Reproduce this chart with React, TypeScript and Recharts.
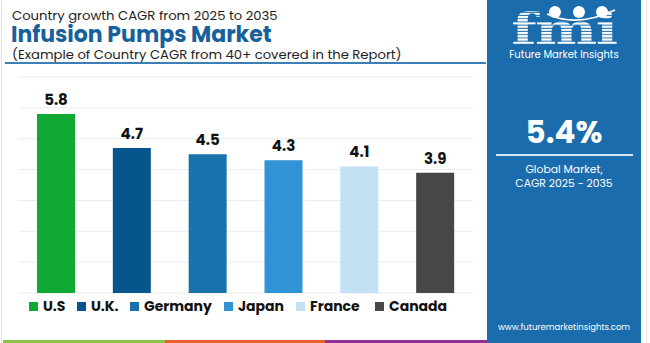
import React from "react";
import { BarChart, Bar, XAxis, YAxis, CartesianGrid, Cell, LabelList } from "recharts";

const countries = ["U.S", "U.K.", "Germany", "Japan", "France", "Canada"];
const cagrValues = [5.8, 4.7, 4.5, 4.3, 4.1, 3.9];
const barColors = ["#0fa934", "#06558c", "#1a72ad", "#2f93d5", "#c4e1f3", "#474747"];
const yTicks = [0, 1, 2, 3, 4, 5, 6, 7];
const legendLefts = [29, 77, 130, 224, 296, 375];

const titleLine1 = "Country growth CAGR from 2025 to 2035";
const titleLine2 = "Infusion Pumps Market";
const titleLine3 = "(Example of Country CAGR from 40+ covered in the Report)";
const globalCagr = "5.4%";
const globalLabel1 = "Global Market,";
const globalLabel2 = "CAGR 2025 - 2035";
const website = "www.futuremarketinsights.com";
const brand = "Future Market Insights";

const data = countries.map((c, i) => ({ name: c, value: cagrValues[i], color: barColors[i] }));

const FONT = "Poppins, 'Open Sans', 'Noto Sans', sans-serif";
const PANEL = "#1b6cad";

function Logo() {
  return (
    <svg width={154} height={64} style={{ position: "absolute", left: 487, top: 0 }}>
      <defs>
        <pattern id="stripes" width="4" height="3.2" patternUnits="userSpaceOnUse">
          <rect x="0" y="0" width="4" height="2.2" fill="#ffffff" />
        </pattern>
      </defs>
      <g transform="translate(77,0) scale(1.4,1) translate(-77,0)">
        <text x={77} y={44} textAnchor="middle" fontFamily="'DejaVu Serif', serif" fontWeight={900} fontSize={42} fill="url(#stripes)" letterSpacing={-1}>
          fmi
        </text>
      </g>
      <circle cx={68} cy={12} r={6} fill="#fff" />
      <circle cx={92} cy={12} r={6} fill="#fff" />
      <circle cx={115} cy={12} r={6} fill="#fff" />
      <path d="M60 14 Q 90 28 128 10" stroke="#fff" strokeWidth={1.5} fill="none" />
      <text x={77} y={58} textAnchor="middle" fontFamily={FONT} fontSize={10} fill="#fff">
        {brand}
      </text>
    </svg>
  );
}

export default function App() {
  return (
    <div style={{ position: "absolute", left: 0, top: 0, width: 650, height: 343, background: "#fff", overflow: "hidden", fontFamily: FONT }}>
      <div style={{ position: "absolute", left: 1, top: 0, width: 1, height: 343, background: "#e2e2e2" }} />
      <div style={{ position: "absolute", left: 646, top: 0, width: 1, height: 343, background: "#e2e2e2" }} />

      <div style={{ position: "absolute", left: 12, top: 8, fontSize: 13.2, lineHeight: "15px", color: "#1e1e1e", whiteSpace: "nowrap" }}>{titleLine1}</div>
      <div style={{ position: "absolute", left: 11, top: 23, fontSize: 22, lineHeight: "24px", fontWeight: 700, color: "#17609a", whiteSpace: "nowrap" }}>{titleLine2}</div>
      <div style={{ position: "absolute", left: 12, top: 48, fontSize: 13.2, lineHeight: "14px", color: "#1e1e1e", whiteSpace: "nowrap" }}>{titleLine3}</div>
      <div style={{ position: "absolute", left: 5, top: 62, width: 481, height: 1.5, background: "#3d7fb5" }} />

      <div style={{ position: "absolute", left: 0, top: 0 }}>
        <BarChart width={650} height={343} data={data} margin={{ top: 77, right: 177, bottom: 50, left: 18 }}>
          <CartesianGrid horizontal vertical={false} stroke="#ececec" />
          <XAxis dataKey="name" hide />
          <YAxis hide domain={[0, 7]} ticks={yTicks} />
          <Bar dataKey="value" barSize={38} isAnimationActive={false}>
            {data.map((d, i) => (
              <Cell key={i} fill={d.color} />
            ))}
            <LabelList dataKey="value" position="top" offset={9} fill="#111" fontWeight={700} fontSize={15} fontFamily={FONT} />
          </Bar>
        </BarChart>
      </div>

      <div style={{ position: "absolute", left: 0, top: 297, height: 20 }}>
        {data.map((d, i) => (
          <div key={i} style={{ position: "absolute", left: legendLefts[i], top: 0, display: "flex", alignItems: "center", whiteSpace: "nowrap" }}>
            <div style={{ width: 9, height: 9, background: d.color, marginRight: 5 }} />
            <span style={{ fontSize: 14, fontWeight: 700, color: "#111", lineHeight: "18px" }}>{d.name}</span>
          </div>
        ))}
      </div>

      <div style={{ position: "absolute", left: 3, top: 340, width: 162, height: 3, background: "#8bc34a" }} />
      <div style={{ position: "absolute", left: 165, top: 340, width: 160, height: 3, background: "#e8602c" }} />
      <div style={{ position: "absolute", left: 325, top: 340, width: 162, height: 3, background: "#8e2e91" }} />

      <div style={{ position: "absolute", left: 487, top: 0, width: 154, height: 343, background: PANEL }} />
      <Logo />
      <div style={{ position: "absolute", left: 487, top: 109, width: 154, textAlign: "center", color: "#fff", fontSize: 31, fontWeight: 700 }}>{globalCagr}</div>
      <div style={{ position: "absolute", left: 496, top: 154, width: 137, height: 1.5, background: "#d7e6f3" }} />
      <div style={{ position: "absolute", left: 487, top: 163, width: 154, textAlign: "center", color: "#fff", fontSize: 10.8, lineHeight: "14px" }}>
        {globalLabel1}
        <br />
        {globalLabel2}
      </div>
      <div style={{ position: "absolute", left: 487, top: 321, width: 154, textAlign: "center", color: "#fff", fontSize: 8.5, lineHeight: "12px" }}>{website}</div>
    </div>
  );
}
